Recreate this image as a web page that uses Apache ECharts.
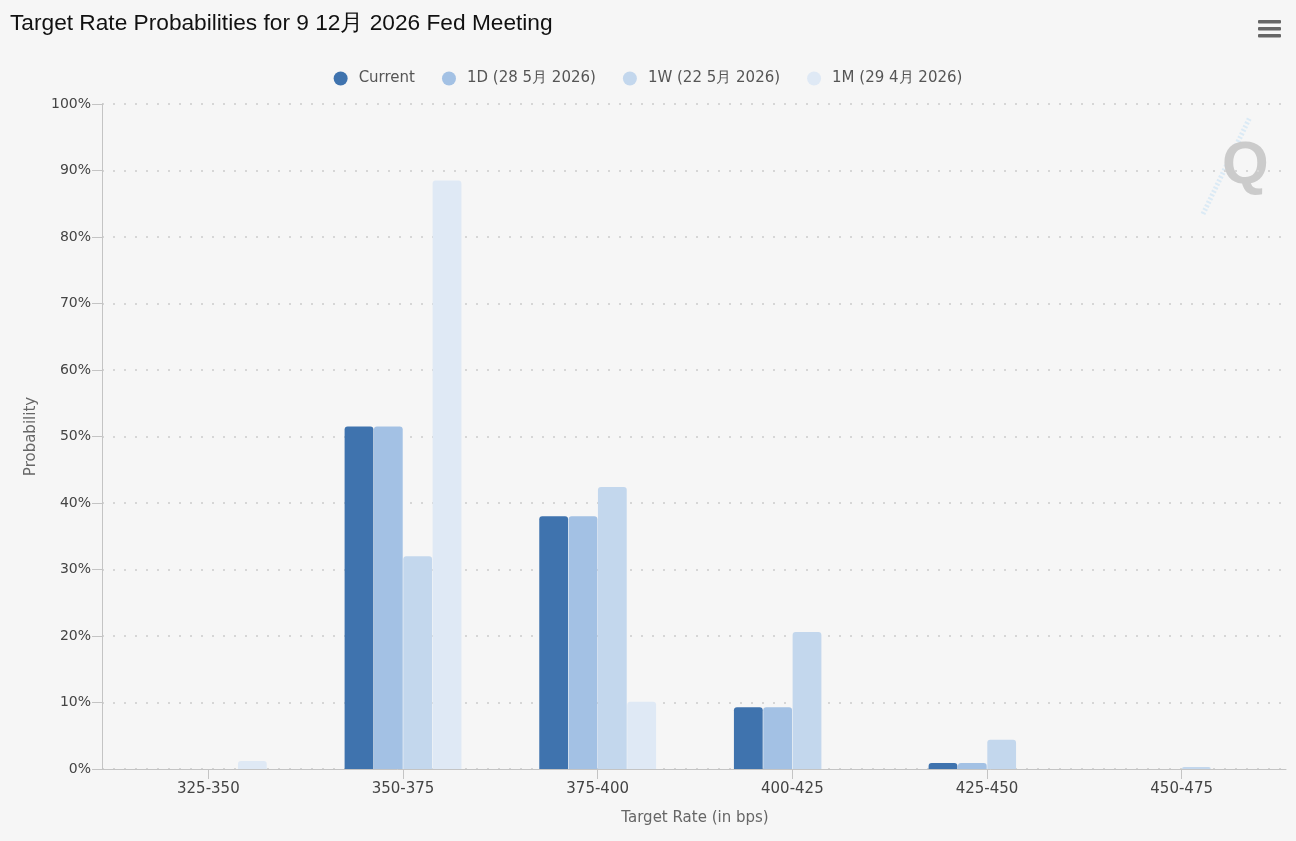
<!DOCTYPE html>
<html>
<head>
<meta charset="utf-8">
<script src="https://cdn.jsdelivr.net/npm/echarts@6/dist/echarts.min.js"></script>
<style>
html,body{margin:0;padding:0;background:#f6f6f6;}
#c{width:1296px;height:841px;}
</style>
</head>
<body>
<div id="c"></div>
<script>
const categories = ['325-350', '350-375', '375-400', '400-425', '425-450', '450-475'];
const seriesNames = ['Current', '1D (28 5月 2026)', '1W (22 5月 2026)', '1M (29 4月 2026)'];
const currentVals = [0, 51.5, 38.0, 9.3, 0.9, 0];
const oneDayVals = [0, 51.5, 38.0, 9.3, 0.9, 0];
const oneWeekVals = [0, 32.0, 42.4, 20.6, 4.4, 0.3];
const oneMonthVals = [1.2, 88.5, 10.1, 0, 0, 0];
const yTicks = [0, 10, 20, 30, 40, 50, 60, 70, 80, 90, 100];
const colors = ['#3f73ae', '#a3c1e4', '#c3d7ed', '#dfe9f5'];

const chart = echarts.init(document.getElementById('c'));
const font = 'DejaVu Sans';
const allVals = [currentVals, oneDayVals, oneWeekVals, oneMonthVals];

chart.setOption({
  backgroundColor: '#f6f6f6',
  animation: false,
  title: {
    text: 'Target Rate Probabilities for 9 12月 2026 Fed Meeting',
    left: 5, top: 7,
    textStyle: {fontFamily: 'Liberation Sans', fontSize: 22.7, fontWeight: 'normal', color: '#111'}
  },
  legend: {
    top: 66, left: 'center',
    icon: 'circle', itemWidth: 26, itemHeight: 14, itemGap: 27,
    textStyle: {fontFamily: font, fontSize: 15, color: '#555'},
    data: seriesNames
  },
  grid: [
    {left: 102, right: 10, top: 104, bottom: 72},
    {left: 111, right: 17, top: 104, bottom: 72}
  ],
  xAxis: [
    {
      gridIndex: 0, type: 'category', data: categories,
      axisLine: {show: true, lineStyle: {color: '#c4c4c4', width: 1}},
      axisTick: {show: false}, axisLabel: {show: false}, splitLine: {show: false}
    },
    {
      gridIndex: 1, type: 'category', data: categories,
      name: 'Target Rate (in bps)', nameLocation: 'middle', nameGap: 42,
      nameTextStyle: {fontFamily: font, fontSize: 15, color: '#666'},
      axisLine: {show: false},
      axisTick: {show: true, alignWithLabel: true, length: 10, lineStyle: {color: '#c4c4c4'}},
      axisLabel: {fontFamily: font, fontSize: 15, color: '#444', margin: 13}
    }
  ],
  yAxis: [
    {
      gridIndex: 0, type: 'value', min: 0, max: 100, interval: 10,
      name: 'Probability', nameLocation: 'middle', nameGap: 63,
      nameTextStyle: {fontFamily: font, fontSize: 15, color: '#666'},
      axisLine: {show: true, lineStyle: {color: '#c4c4c4'}},
      axisTick: {show: true, length: 10, lineStyle: {color: '#c4c4c4'}},
      axisLabel: {fontFamily: font, fontSize: 14, color: '#444', margin: 11,
        formatter: v => yTicks.includes(v) ? v + '%' : ''},
      splitLine: {show: true, lineStyle: {color: '#d6d6d6', width: 2, type: [2, 9]}}
    },
    {
      gridIndex: 1, type: 'value', min: 0, max: 100, interval: 10, show: false,
      splitLine: {show: false}
    }
  ],
  graphic: [
    {type: 'rect', left: 1258, top: 20, shape: {width: 23, height: 3.5, r: 1}, style: {fill: '#666'}},
    {type: 'rect', left: 1258, top: 27, shape: {width: 23, height: 3.5, r: 1}, style: {fill: '#666'}},
    {type: 'rect', left: 1258, top: 34, shape: {width: 23, height: 3.5, r: 1}, style: {fill: '#666'}},
    {type: 'line', shape: {x1: 1203, y1: 214, x2: 1250, y2: 117},
      style: {stroke: '#dbeaf5', lineWidth: 5, lineDash: [2, 2]}},
    {type: 'text', left: 1222, top: 136,
      style: {text: 'Q', fontFamily: 'Liberation Sans', fontSize: 60, fontWeight: 'bold', fill: '#cbcbcb'}}
  ],
  series: seriesNames.map((name, i) => ({
    name: name, type: 'bar', xAxisIndex: 1, yAxisIndex: 1,
    data: allVals[i],
    barGap: '2%', barCategoryGap: '40%',
    itemStyle: {color: colors[i], borderRadius: [3, 3, 0, 0]}
  }))
});
</script>
</body>
</html>
